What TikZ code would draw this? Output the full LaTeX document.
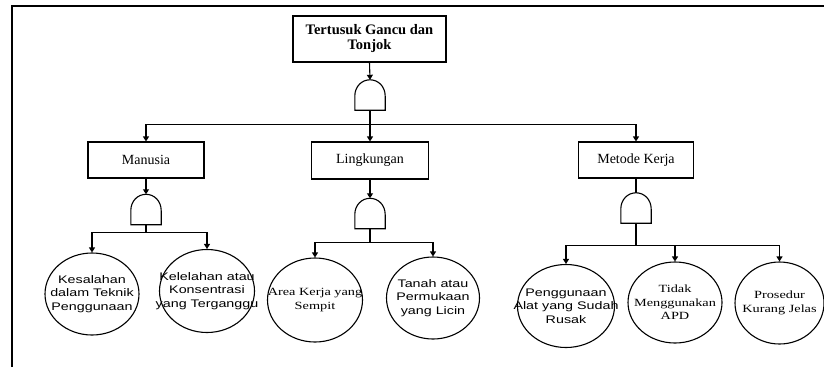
\documentclass[tikz,border=0pt]{standalone}
\usepackage{fontspec}
\setmainfont{Liberation Serif}
\newfontfamily\sansx[FakeStretch=1.3]{Liberation Sans}
\newfontfamily\serifx[FakeStretch=1.3]{Liberation Serif}
\usetikzlibrary{shapes.geometric,arrows.meta,calc}
\tikzset{
  ln/.style={line width=1.1pt, draw=black},
  arr/.style={ln, -{Triangle[width=6pt,length=5pt]}},
  boxn/.style={ln, rectangle, inner sep=0pt, font=\fontsize{14}{15}\selectfont},
  gaten/.style={rectangle, draw=none, minimum width=30pt, minimum height=30pt, inner sep=0pt},
  ell/.style={ln, ellipse, inner sep=-25pt, align=center},
  sanst/.style={ell, font=\sansx\fontsize{11}{13.5}\selectfont},
  seriff/.style={ell, font=\serifx\fontsize{11}{13.5}\selectfont},
}
\newcommand\andgate[1]{%
  \draw[ln] (#1.south west) -- (#1.south east) -- ($(#1.south east)+(0pt,14pt)$)
    .. controls +(0pt,10pt) and +(8pt,0pt) .. (#1.north)
    .. controls +(-8pt,0pt) and +(0pt,10pt) .. ($(#1.south west)+(0pt,14pt)$) -- cycle;}
\begin{document}
\begin{tikzpicture}[x=1pt,y=-1pt]
\useasboundingbox (0,0) rectangle (824,367);
% frame
\draw[ln] (12,367) -- (12,6) -- (824,6);
% top event
\node[boxn, minimum width=153pt, minimum height=46pt, align=center,
  font=\bfseries\fontsize{14.5}{15}\selectfont] (top) at (369.5,39) {Tertusuk Gancu dan\\Tonjok};
\node[gaten] (g0) at (370,95) {};
\andgate{g0}
% intermediate events
\node[boxn, minimum width=116pt, minimum height=36pt] (man) at (146,160) {Manusia};
\node[boxn, minimum width=117pt, minimum height=37pt] (lin) at (370,160.5) {Lingkungan};
\node[boxn, minimum width=115pt, minimum height=36pt] (met) at (636,160) {Metode Kerja};
\node[gaten] (g1) at (146,209.5) {};
\node[gaten] (g2) at (370,213.5) {};
\node[gaten] (g3) at (636,208) {};
\andgate{g1}\andgate{g2}\andgate{g3}
% basic events
\node[sanst, minimum width=94pt, minimum height=82pt] (e11) at (92,294) {Kesalahan\\dalam Teknik\\Penggunaan};
\node[sanst, minimum width=95pt, minimum height=83pt] (e12) at (207,291) {Kelelahan atau\\Konsentrasi\\yang Terganggu};
\node[seriff, minimum width=95pt, minimum height=84pt] (e21) at (315,300) {Area Kerja yang\\Sempit};
\node[sanst, minimum width=93pt, minimum height=82pt] (e22) at (433,298) {Tanah atau\\Permukaan\\yang Licin};
\node[sanst, minimum width=97pt, minimum height=83pt] (e31) at (566,306) {Penggunaan\\Alat yang Sudah\\Rusak};
\node[seriff, minimum width=94pt, minimum height=81pt] (e32) at (675,302.5) {Tidak\\Menggunakan\\APD};
\node[seriff, minimum width=89pt, minimum height=82pt] (e33) at (779.5,303) {Prosedur\\Kurang Jelas};
% connectors
\draw[arr] (top.south) -- (g0.north);
\draw[arr] (g0.south) -- ++(0,14) -| (man.north);
\draw[arr] (g0.south) -- (lin.north);
\draw[arr] (g0.south) -- ++(0,14) -| (met.north);
\draw[arr] (man.south) -- (g1.north);
\draw[arr] (lin.south) -- (g2.north);
\draw[ln] (met.south) -- (g3.north);
\draw[arr] (g1.south) -- ++(0,8) -| (e11.north);
\draw[arr] (g1.south) -- ++(0,8) -| (e12.north);
\draw[arr] (g2.south) -- ++(0,14) -| (e21.north);
\draw[arr] (g2.south) -- ++(0,14) -| (e22.north);
\draw[arr] (g3.south) -- ++(0,22) -| (e31.north);
\draw[arr] (g3.south) -- ++(0,22) -| (e32.north);
\draw[arr] (g3.south) -- ++(0,22) -| (e33.north);
\end{tikzpicture}
\end{document}
